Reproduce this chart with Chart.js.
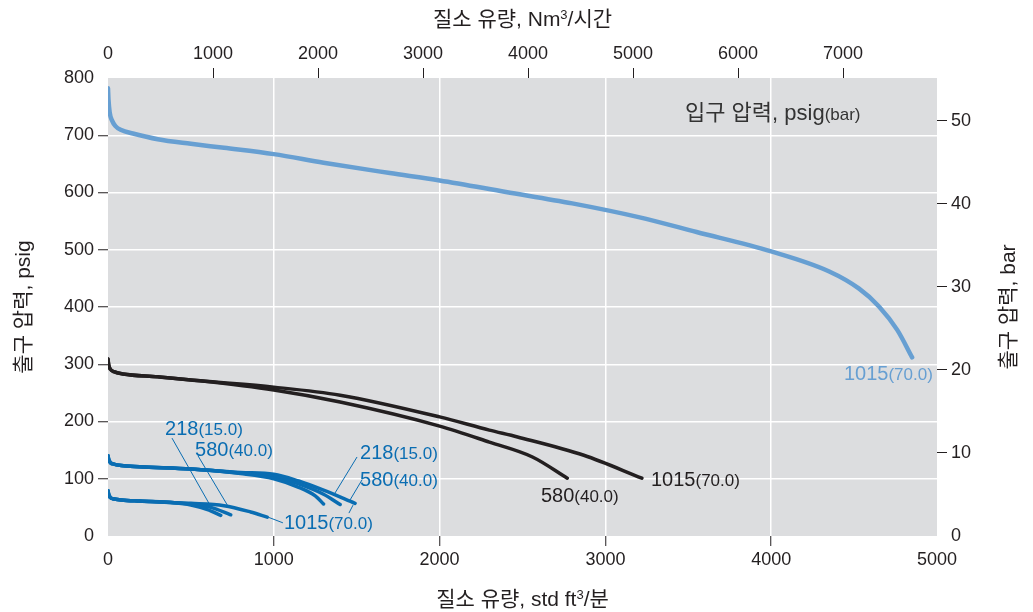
<!DOCTYPE html>
<html>
<head>
<meta charset="utf-8">
<script src="https://cdn.jsdelivr.net/npm/chart.js@4.4.1/dist/chart.umd.min.js"></script>
<style>
  html, body { margin: 0; padding: 0; background: #fff; }
</style>
</head>
<body>
<canvas id="chart" width="1033" height="612"></canvas>
<script>
// -------------------- Data --------------------
// flow in std ft3/min, outlet pressure in psig
const flowTicks = [0, 1000, 2000, 3000, 4000, 5000];
const nm3Ticks = [0, 1000, 2000, 3000, 4000, 5000, 6000, 7000];
const psigTicks = [0, 100, 200, 300, 400, 500, 600, 700, 800];
const barTicks = [0, 10, 20, 30, 40, 50];

// high outlet setting, 1015 psig inlet
const hi1015Flow = [0, 3, 10, 24, 45, 80, 150, 300, 500, 700, 1000, 1300, 1700, 2000, 2400, 2800, 3200, 3550, 4000, 4350, 4530, 4650, 4760, 4850];
const hi1015Psig = [782, 762, 740, 726, 716, 709, 703, 693, 685, 678, 667, 652, 634, 621, 601, 581, 557, 531, 497, 462, 432, 401, 360, 312];

// ~300 psig outlet setting
const mid1015Flow = [0, 5, 15, 35, 90, 300, 555, 1000, 1400, 2000, 2300, 2470, 2870, 3220];
const mid1015Psig = [309, 298, 291, 287, 283, 278, 271, 260, 246, 208, 185, 173, 141, 101];
const mid580Flow = [0, 5, 15, 35, 90, 300, 555, 1000, 1400, 2000, 2300, 2560, 2770];
const mid580Psig = [309, 298, 291, 287, 283, 278, 271, 255, 234, 192, 164, 138, 101];

// ~140 psig outlet setting
const up218Flow = [0, 5, 15, 30, 80, 190, 500, 800, 1000, 1150, 1250, 1300];
const up218Psig = [140, 133, 128, 126, 123, 121, 117, 109, 100, 85, 70, 56];
const up580Flow = [0, 5, 15, 30, 80, 190, 500, 800, 1000, 1150, 1300, 1400];
const up580Psig = [140, 133, 128, 126, 123, 121, 117, 110, 104, 91, 73, 55];
const up1015Flow = [0, 5, 15, 30, 80, 190, 500, 800, 1000, 1150, 1300, 1490];
const up1015Psig = [140, 133, 128, 126, 123, 121, 117, 111, 108, 96, 80, 57];

// ~80 psig outlet setting
const lo218Flow = [0, 5, 15, 30, 80, 190, 400, 500, 600, 680];
const lo218Psig = [79, 72, 67, 65, 63, 61, 58, 54, 46, 36];
const lo580Flow = [0, 5, 15, 30, 80, 190, 400, 500, 620, 740];
const lo580Psig = [79, 72, 67, 65, 63, 61, 58, 56, 50, 37];
const lo1015Flow = [0, 5, 15, 30, 80, 190, 400, 500, 700, 860, 960];
const lo1015Psig = [79, 72, 67, 65, 63, 61, 58, 57, 53, 42, 33];

const NM3_PER_SCFM = 1.579;
const BAR_PER_PSI = 1 / 14.5038;

// -------------------- Styles --------------------
const LIGHT = "#679fd2";
const DARK = "#231f20";
const BLUE = "#0a6db2";
const FONT = "'Liberation Sans', 'Noto Sans CJK KR', Arial, sans-serif";
const TICK_COLOR = "#231f20";

function pts(xs, ys) {
  return xs.map((x, i) => ({ x: x, y: ys[i] }));
}

function line(xs, ys, color, width) {
  return {
    data: pts(xs, ys),
    showLine: true,
    borderColor: color,
    borderWidth: width,
    pointRadius: 0,
    cubicInterpolationMode: "monotone",
    borderCapStyle: "round",
    borderJoinStyle: "round",
    xAxisID: "x",
    yAxisID: "y",
  };
}

// curve labels: [main, small, x(flow), y(psig), color, align, mainSize]
const curveLabels = [
  ["입구 압력, psig", "(bar)", 3480, 727, "#333", "left", 22],
  ["1015", "(70.0)", 4975, 273, LIGHT, "right", 20],
  ["1015", "(70.0)", 3275, 88, DARK, "left", 20],
  ["580", "(40.0)", 2611, 59, DARK, "left", 20],
  ["218", "(15.0)", 344, 177, BLUE, "left", 20],
  ["580", "(40.0)", 525, 139, BLUE, "left", 20],
  ["218", "(15.0)", 1520, 134, BLUE, "left", 20],
  ["580", "(40.0)", 1520, 88, BLUE, "left", 20],
  ["1015", "(70.0)", 1061, 13, BLUE, "left", 20],
];

// leader lines in data units: [x1, y1, x2, y2]
const leaders = [
  [386, 171, 615, 54],
  [543, 140, 730, 49],
  [1502, 138, 1369, 75],
  [1532, 98, 1460, 63],
  [1478, 54, 1453, 40],
  [965, 33, 1055, 23],
];

// -------------------- Plugins --------------------
function drawRuns(ctx, runs, x, y, align) {
  let total = 0;
  runs.forEach(r => {
    ctx.font = r.size + "px " + FONT;
    r.w = ctx.measureText(r.t).width;
    total += r.w;
  });
  let cx = align === "center" ? x - total / 2 : align === "right" ? x - total : x;
  ctx.textAlign = "left";
  ctx.textBaseline = "alphabetic";
  runs.forEach(r => {
    ctx.font = r.size + "px " + FONT;
    ctx.fillText(r.t, cx, y - (r.rise || 0));
    cx += r.w;
  });
}

const plotBg = {
  id: "plotBg",
  beforeDraw(chart) {
    const a = chart.chartArea;
    const ctx = chart.ctx;
    ctx.save();
    ctx.fillStyle = "#dcdddf";
    ctx.fillRect(a.left, a.top, a.right - a.left, a.bottom - a.top);
    ctx.restore();
  },
};

const extras = {
  id: "extras",
  afterDatasetsDraw(chart) {
    const ctx = chart.ctx;
    const sx = chart.scales.x;
    const sy = chart.scales.y;
    ctx.save();

    // leader lines
    ctx.strokeStyle = BLUE;
    ctx.lineWidth = 1;
    leaders.forEach(l => {
      ctx.beginPath();
      ctx.moveTo(sx.getPixelForValue(l[0]), sy.getPixelForValue(l[1]));
      ctx.lineTo(sx.getPixelForValue(l[2]), sy.getPixelForValue(l[3]));
      ctx.stroke();
    });

    // curve labels
    curveLabels.forEach(l => {
      ctx.fillStyle = l[4];
      drawRuns(ctx, [{ t: l[0], size: l[6] }, { t: l[1], size: 17 }],
        sx.getPixelForValue(l[2]), sy.getPixelForValue(l[3]), l[5]);
    });

    // axis titles
    const a = chart.chartArea;
    const midX = (a.left + a.right) / 2;
    const midY = (a.top + a.bottom) / 2;
    ctx.fillStyle = "#231f20";
    drawRuns(ctx, [{ t: "질소 유량, Nm", size: 21 }, { t: "3", size: 13, rise: 7 }, { t: "/시간", size: 21 }],
      midX, 26, "center");
    drawRuns(ctx, [{ t: "질소 유량, std ft", size: 21 }, { t: "3", size: 13, rise: 7 }, { t: "/분", size: 21 }],
      midX, 606, "center");

    ctx.save();
    ctx.translate(30, midY);
    ctx.rotate(-Math.PI / 2);
    drawRuns(ctx, [{ t: "출구 압력, psig", size: 21 }], 0, 0, "center");
    ctx.restore();

    ctx.save();
    ctx.translate(1015, midY);
    ctx.rotate(-Math.PI / 2);
    drawRuns(ctx, [{ t: "출구 압력, bar", size: 21 }], 0, 0, "center");
    ctx.restore();

    ctx.restore();
  },
};

// -------------------- Axes helpers --------------------
function fixedTicks(list) {
  return scale => { scale.ticks = list.map(v => ({ value: v })); };
}

function edgeAware(edges, onColor) {
  return c => (c.tick && edges.includes(c.tick.value)) ? "rgba(0,0,0,0)" : onColor;
}

const tickFont = { family: FONT, size: 18 };
const plainLabel = v => String(v);

// -------------------- Chart --------------------
const ctx = document.getElementById("chart").getContext("2d");
const chart = new Chart(ctx, {
  type: "scatter",
  data: {
    datasets: [
      line(hi1015Flow, hi1015Psig, LIGHT, 4.5),
      line(mid1015Flow, mid1015Psig, DARK, 3.5),
      line(mid580Flow, mid580Psig, DARK, 3.5),
      line(up218Flow, up218Psig, BLUE, 3.5),
      line(up580Flow, up580Psig, BLUE, 3.5),
      line(up1015Flow, up1015Psig, BLUE, 3.5),
      line(lo218Flow, lo218Psig, BLUE, 3.5),
      line(lo580Flow, lo580Psig, BLUE, 3.5),
      line(lo1015Flow, lo1015Psig, BLUE, 3.5),
    ],
  },
  options: {
    responsive: false,
    animation: false,
    layout: { padding: 0 },
    plugins: {
      legend: { display: false },
      tooltip: { enabled: false },
    },
    scales: {
      x: {
        type: "linear",
        position: "bottom",
        min: 0,
        max: 5000,
        afterBuildTicks: fixedTicks(flowTicks),
        afterFit: s => { s.height = 76; },
        border: { display: false },
        grid: {
          color: edgeAware([0, 5000], "#ffffff"),
          lineWidth: 1.5,
          tickColor: edgeAware([0, 5000], TICK_COLOR),
          tickLength: 10,
          tickWidth: 1,
        },
        ticks: { font: tickFont, color: TICK_COLOR, padding: 3, maxRotation: 0, callback: plainLabel },
      },
      x2: {
        type: "linear",
        position: "top",
        min: 0,
        max: 5000 * NM3_PER_SCFM,
        afterBuildTicks: fixedTicks(nm3Ticks),
        afterFit: s => { s.height = 78; },
        border: { display: false },
        grid: {
          drawOnChartArea: false,
          tickColor: edgeAware([0], TICK_COLOR),
          tickLength: 10,
          tickWidth: 1,
        },
        ticks: { font: tickFont, color: TICK_COLOR, padding: 3, maxRotation: 0, callback: plainLabel },
      },
      y: {
        type: "linear",
        position: "left",
        min: 0,
        max: 800,
        afterBuildTicks: fixedTicks(psigTicks),
        afterFit: s => { s.width = 108; },
        border: { display: false },
        grid: {
          color: edgeAware([0, 800], "#ffffff"),
          lineWidth: 1.5,
          tickColor: edgeAware([0, 800], TICK_COLOR),
          tickLength: 10,
          tickWidth: 1,
        },
        ticks: { font: tickFont, color: TICK_COLOR, padding: 4, callback: plainLabel },
      },
      y2: {
        type: "linear",
        position: "right",
        min: 0,
        max: 800 * BAR_PER_PSI,
        afterBuildTicks: fixedTicks(barTicks),
        afterFit: s => { s.width = 96; },
        border: { display: false },
        grid: {
          drawOnChartArea: false,
          tickColor: edgeAware([0], TICK_COLOR),
          tickLength: 10,
          tickWidth: 1,
        },
        ticks: { font: tickFont, color: TICK_COLOR, padding: 4, callback: plainLabel },
      },
    },
  },
  plugins: [plotBg, extras],
});
</script>
</body>
</html>
